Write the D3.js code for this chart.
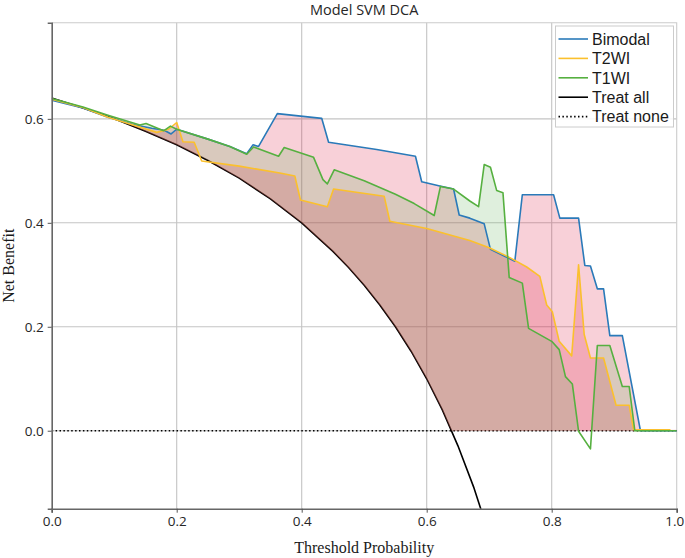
<!DOCTYPE html>
<html>
<head>
<meta charset="utf-8">
<script src="https://cdn.jsdelivr.net/npm/d3@7"></script>
<style>
    body { margin: 0; background: #fff; }
    svg { display: block; }
</style>
</head>
<body>
<svg class="main" width="685" height="558"></svg>
<script>
'use strict';

// threshold probability / net benefit
var bimodalPt = [0.000, 0.050, 0.090, 0.130, 0.160, 0.180, 0.191, 0.200, 0.250, 0.285, 0.312, 0.322, 0.331, 0.361,
    0.432, 0.443, 0.520, 0.582, 0.592, 0.621, 0.643, 0.652, 0.669, 0.692, 0.702, 0.741, 0.753, 0.803, 0.813,
    0.843, 0.853, 0.862, 0.873, 0.883, 0.893, 0.913, 0.942, 1.000];
var bimodalNb = [0.636, 0.621, 0.603, 0.589, 0.582, 0.578, 0.571, 0.580, 0.561, 0.547, 0.533, 0.550, 0.547, 0.610,
    0.601, 0.555, 0.541, 0.528, 0.479, 0.471, 0.465, 0.415, 0.409, 0.398, 0.349, 0.326, 0.454, 0.454, 0.409,
    0.409, 0.318, 0.317, 0.273, 0.273, 0.183, 0.183, 0.000, 0.000];

var t2wiPt = [0.000, 0.050, 0.090, 0.125, 0.168, 0.187, 0.200, 0.210, 0.228, 0.240, 0.300, 0.365, 0.389, 0.398,
    0.441, 0.451, 0.532, 0.541, 0.600, 0.669, 0.700, 0.733, 0.760, 0.781, 0.792, 0.801, 0.812, 0.832, 0.843,
    0.852, 0.862, 0.883, 0.903, 0.924, 0.931, 0.990];
var t2wiNb = [0.638, 0.622, 0.603, 0.590, 0.574, 0.580, 0.593, 0.556, 0.555, 0.519, 0.509, 0.496, 0.490, 0.444,
    0.431, 0.465, 0.451, 0.403, 0.389, 0.366, 0.352, 0.333, 0.315, 0.297, 0.242, 0.229, 0.172, 0.144, 0.319,
    0.185, 0.140, 0.140, 0.049, 0.049, 0.002, 0.002];

var t1wiPt = [0.000, 0.050, 0.090, 0.141, 0.151, 0.179, 0.190, 0.200, 0.250, 0.285, 0.312, 0.323, 0.363, 0.372,
    0.419, 0.434, 0.441, 0.452, 0.500, 0.550, 0.580, 0.612, 0.622, 0.643, 0.669, 0.683, 0.692, 0.702, 0.712,
    0.722, 0.732, 0.753, 0.763, 0.800, 0.812, 0.822, 0.833, 0.843, 0.862, 0.873, 0.893, 0.913, 0.924, 0.933, 1.000];
var t1wiNb = [0.639, 0.623, 0.607, 0.588, 0.591, 0.577, 0.586, 0.580, 0.561, 0.547, 0.532, 0.546, 0.528, 0.545,
    0.526, 0.483, 0.475, 0.502, 0.481, 0.455, 0.437, 0.414, 0.470, 0.465, 0.442, 0.431, 0.512, 0.507, 0.462,
    0.458, 0.295, 0.284, 0.197, 0.172, 0.156, 0.104, 0.090, -0.001, -0.035, 0.164, 0.164, 0.085, 0.085, 0.000, 0.000];

var allPt = [0.000, 0.050, 0.100, 0.150, 0.200, 0.250, 0.300, 0.350, 0.400, 0.450, 0.475, 0.500, 0.525, 0.550,
    0.575, 0.600, 0.625, 0.650, 0.675, 0.700];
var allNb = [0.640, 0.621, 0.600, 0.576, 0.550, 0.520, 0.486, 0.446, 0.400, 0.345, 0.314, 0.280, 0.242, 0.200,
    0.153, 0.100, 0.040, -0.029, -0.108, -0.200];

var nonePt = [0.0, 1.0];
var noneNb = [0.0, 0.0];

var xTicks = [0.0, 0.2, 0.4, 0.6, 0.8, 1.0];
var yTicks = [0.0, 0.2, 0.4, 0.6];
var legendNames = ['Bimodal', 'T2WI', 'T1WI', 'Treat all', 'Treat none'];

(function () {
    var svg = d3.select('svg.main');
    var pLeft = 51.7, pRight = 676.7, pTop = 22.7, pBottom = 508.7;

    var x = d3.scaleLinear().domain([0, 1]).range([pLeft, pRight]);
    var y = d3.scaleLinear().domain([-0.15, 0.785]).range([pBottom, pTop]);

    var lineColor = {
        'Bimodal': '#2a7ab9',
        'T2WI': '#fbc02d',
        'T1WI': '#56b040',
        'Treat all': '#000000',
        'Treat none': '#000000'
    };

    svg.append('defs').append('clipPath')
        .attr('id', 'plotClip')
        .append('rect')
        .attr('x', pLeft).attr('y', pTop)
        .attr('width', pRight - pLeft).attr('height', pBottom - pTop);

    // grid
    var grid = svg.append('g').attr('class', 'grid');
    grid.selectAll('.gx')
        .data(xTicks.slice(1, -1))
        .enter().append('line')
        .attr('x1', function (d) { return x(d); })
        .attr('x2', function (d) { return x(d); })
        .attr('y1', pTop).attr('y2', pBottom)
        .attr('stroke', '#c4c4c4').attr('stroke-width', 1.1);
    grid.selectAll('.gy')
        .data(yTicks)
        .enter().append('line')
        .attr('y1', function (d) { return y(d); })
        .attr('y2', function (d) { return y(d); })
        .attr('x1', pLeft).attr('x2', pRight)
        .attr('stroke', '#c4c4c4').attr('stroke-width', 1.1);

    // light frame on top / right
    svg.append('path')
        .attr('d', 'M' + pLeft + ',' + pTop + 'H' + pRight + 'V' + pBottom)
        .attr('fill', 'none').attr('stroke', '#cccccc').attr('stroke-width', 1.1);

    var plot = svg.append('g').attr('clip-path', 'url(#plotClip)');

    function toPoints(pt, nb) {
        return pt.map(function (d, i) { return [d, nb[i]]; });
    }

    var line = d3.line()
        .x(function (d) { return x(d[0]); })
        .y(function (d) { return y(d[1]); });

    plot.append('path')
        .attr('d', line(toPoints(allPt, allNb)))
        .attr('fill', 'none').attr('stroke', lineColor['Treat all']).attr('stroke-width', 1.6);

    plot.append('path')
        .attr('d', line(toPoints(nonePt, noneNb)))
        .attr('fill', 'none').attr('stroke', lineColor['Treat none'])
        .attr('stroke-width', 1.5).attr('stroke-dasharray', '1.5,2.4');

    // shaded benefit over max(treat all, treat none)
    var allAt = d3.scaleLinear().domain(allPt).range(allNb).clamp(true);

    function benefitArea(pt, nb) {
        var model = d3.scaleLinear().domain(pt).range(nb).clamp(true);
        var xs = d3.range(0, 1.0001, 0.002).concat(pt, allPt, [0.64]);
        xs = Array.from(new Set(xs.map(function (v) { return Math.round(v * 10000) / 10000; })))
            .sort(d3.ascending);
        return xs.map(function (t) {
            var base = Math.max(allAt(t), 0);
            return { t: t, base: base, v: Math.max(model(t), base) };
        });
    }

    var area = d3.area()
        .x(function (d) { return x(d.t); })
        .y0(function (d) { return y(d.base); })
        .y1(function (d) { return y(d.v); });

    var fills = [
        { pt: bimodalPt, nb: bimodalNb, color: 'rgb(220,20,60)', alpha: 0.2 },
        { pt: t2wiPt, nb: t2wiNb, color: 'rgb(220,20,60)', alpha: 0.2 },
        { pt: t1wiPt, nb: t1wiNb, color: 'rgb(97,173,85)', alpha: 0.2 }
    ];

    fills.forEach(function (f) {
        plot.append('path')
            .attr('d', area(benefitArea(f.pt, f.nb)))
            .attr('fill', f.color)
            .attr('fill-opacity', f.alpha)
            .attr('stroke', 'none');
    });

    var models = [
        { name: 'Bimodal', pt: bimodalPt, nb: bimodalNb },
        { name: 'T2WI', pt: t2wiPt, nb: t2wiNb },
        { name: 'T1WI', pt: t1wiPt, nb: t1wiNb }
    ];

    models.forEach(function (m) {
        plot.append('path')
            .attr('d', line(toPoints(m.pt, m.nb)))
            .attr('fill', 'none')
            .attr('stroke', lineColor[m.name])
            .attr('stroke-width', 1.6)
            .attr('stroke-linejoin', 'round');
    });

    // axes
    var xAxis = d3.axisBottom(x).tickValues(xTicks).tickFormat(d3.format('.1f')).tickSize(4).tickPadding(4);
    var yAxis = d3.axisLeft(y).tickValues(yTicks).tickFormat(d3.format('.1f')).tickSize(4).tickPadding(4);

    var gx = svg.append('g').attr('transform', 'translate(0,' + pBottom + ')').call(xAxis);
    var gy = svg.append('g').attr('transform', 'translate(' + pLeft + ',0)').call(yAxis);

    [gx, gy].forEach(function (g) {
        g.select('.domain').attr('stroke', '#666').attr('stroke-width', 1.6);
        g.selectAll('.tick line').attr('stroke', '#555').attr('stroke-width', 1);
        g.selectAll('.tick text')
            .attr('fill', '#262626')
            .style('font-family', '"Open Sans", "Noto Sans", sans-serif')
            .style('font-size', '13.5px');
    });

    // last x label sits on the page edge, nudge it inside
    gx.selectAll('.tick text')
        .filter(function (d) { return d === 1.0; })
        .attr('dx', '-2.5');

    svg.append('text')
        .attr('x', (pLeft + pRight) / 2).attr('y', 14.5)
        .attr('text-anchor', 'middle')
        .style('font-family', '"Open Sans", "Noto Sans", sans-serif')
        .style('font-size', '14.5px')
        .attr('fill', '#262626')
        .text('Model SVM DCA');

    svg.append('text')
        .attr('x', (pLeft + pRight) / 2).attr('y', 553)
        .attr('text-anchor', 'middle')
        .style('font-family', '"Liberation Serif", "Times New Roman", serif')
        .style('font-size', '16px')
        .attr('fill', '#1a1a1a')
        .text('Threshold Probability');

    svg.append('text')
        .attr('transform', 'translate(14,' + ((pTop + pBottom) / 2) + ') rotate(-90)')
        .attr('text-anchor', 'middle')
        .style('font-family', '"Liberation Serif", "Times New Roman", serif')
        .style('font-size', '16px')
        .attr('fill', '#1a1a1a')
        .text('Net Benefit');

    // legend
    var legend = svg.append('g').attr('class', 'legend');
    legend.append('rect')
        .attr('x', 555.5).attr('y', 26)
        .attr('width', 118).attr('height', 101)
        .attr('fill', '#ffffff').attr('fill-opacity', 0.85)
        .attr('stroke', '#cccccc').attr('stroke-width', 1);

    var rows = legend.selectAll('.row')
        .data(legendNames)
        .enter().append('g')
        .attr('transform', function (d, i) { return 'translate(0,' + (39 + i * 19.4) + ')'; });

    rows.append('line')
        .attr('x1', 558.5).attr('x2', 588)
        .attr('y1', 0).attr('y2', 0)
        .attr('stroke', function (d) { return lineColor[d]; })
        .attr('stroke-width', 1.6)
        .attr('stroke-dasharray', function (d) { return d === 'Treat none' ? '1.5,2.4' : null; });

    rows.append('text')
        .attr('x', 592).attr('y', 0)
        .attr('dy', '0.36em')
        .style('font-family', '"Liberation Sans", Arial, sans-serif')
        .style('font-size', '16px')
        .attr('fill', '#1a1a1a')
        .text(function (d) { return d; });
})();
</script>
</body>
</html>
